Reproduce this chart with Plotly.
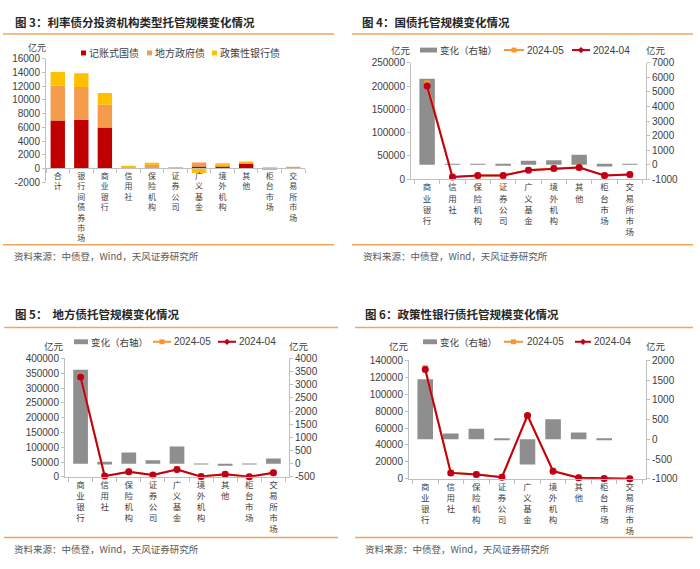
import plotly.graph_objects as go

W, H = 700, 569

# ---------------- data ----------------
cats_all = ['合计', '银行间债券市场', '商业银行', '信用社', '保险机构', '证券公司',
            '广义基金', '境外机构', '其他', '柜台市场', '交易所市场']
book_treasury = [7000, 7100, 6000, 20, -20, 10, 280, 280, 700, -90, 20]      # 记账式国债
local_gov = [5100, 4800, 3300, 100, 620, 30, 580, 130, 130, -40, 180]        # 地方政府债
policy_bank = [2000, 2000, 1700, 170, 150, -20, -650, 350, 30, -10, 0]       # 政策性银行债

cats_inst = ['商业银行', '信用社', '保险机构', '证券公司', '广义基金', '境外机构',
             '其他', '柜台市场', '交易所市场']

tb_change = [5900, 30, 40, -10, 280, 300, 680, -120, 20]
tb_2405 = [205900, 5030, 8040, 7990, 19780, 23300, 25680, 7880, 10020]
tb_2404 = [200000, 5000, 8000, 8000, 19500, 23000, 25000, 8000, 10000]

lg_change = [3570, 70, 430, 135, 650, -15, -80, -10, 200]
lg_2405 = [341000, 2570, 17430, 6130, 25650, 790, 8920, 490, 14200]
lg_2404 = [337500, 2500, 17000, 6000, 25000, 800, 9000, 500, 14000]

pb_change = [1520, 150, 270, -15, -640, 510, 170, -5, 0]
pb_2405 = [130600, 7150, 5370, 1990, 74300, 9500, 1370, 300, 100]
pb_2404 = [129100, 7000, 5100, 2000, 74900, 9000, 1200, 300, 100]

# tick values (labels built as plain strings)
p1_ticks = [-2000, 0, 2000, 4000, 6000, 8000, 10000, 12000, 14000, 16000]
p2_left_ticks = [0, 50000, 100000, 150000, 200000, 250000]
p2_right_ticks = [-1000, 0, 1000, 2000, 3000, 4000, 5000, 6000, 7000]
p3_left_ticks = [0, 50000, 100000, 150000, 200000, 250000, 300000, 350000, 400000]
p3_right_ticks = [-500, 0, 500, 1000, 1500, 2000, 2500, 3000, 3500, 4000]
p4_left_ticks = [0, 20000, 40000, 60000, 80000, 100000, 120000, 140000]
p4_right_ticks = [-1000, -500, 0, 500, 1000, 1500, 2000]

# ---------------- style ----------------
RED = '#C00000'
ORANGE = '#F59B4C'
YELLOW = '#FFC000'
GRAY = '#8E8E8E'
LINE_RED = '#C0001A'
LINE_OR = '#F7962F'
AX = '#BFBFBF'
TXT = '#404040'
DIV = '#F2A45E'
FONT = 'Liberation Sans, Noto Sans CJK SC, sans-serif'
CJK = 'Noto Sans CJK SC, sans-serif'


def fx(px):
    return px / W


def fy(py):
    return 1 - py / H


def dom_x(a, b):
    return [fx(a), fx(b)]


def dom_y(top, bottom):
    return [fy(bottom), fy(top)]


def tick_axis(vals, rng, **kw):
    d = dict(range=[rng[0], rng[1]], tickvals=vals, ticktext=[str(v) for v in vals],
             showline=True, linecolor=AX, linewidth=1, ticks='outside', ticklen=3,
             tickcolor=AX, tickfont=dict(size=10, color=TXT, family=FONT),
             showgrid=False, zeroline=False, fixedrange=True)
    d.update(kw)
    return d


def cat_axis(cats, size, **kw):
    d = dict(type='category', showline=True, linecolor=AX, linewidth=1, ticks='outside',
             ticklen=4, tickcolor=AX, tickson='boundaries',
             tickmode='array', tickvals=cats, ticktext=['<br>'.join(c) for c in cats],
             tickfont=dict(size=size, color=TXT, family=CJK), tickangle=0,
             showgrid=False, zeroline=False, fixedrange=True)
    d.update(kw)
    return d


fig = go.Figure()

# ---------------- panel 1 (图3) ----------------
for name, vals, col in [('记账式国债', book_treasury, RED),
                        ('地方政府债', local_gov, ORANGE),
                        ('政策性银行债', policy_bank, YELLOW)]:
    fig.add_trace(go.Bar(x=cats_all, y=vals, name=name, marker=dict(color=col, line=dict(width=0)),
                         xaxis='x', yaxis='y', showlegend=False))

# ---------------- panels 2-4 ----------------
panels = [
    (tb_change, tb_2405, tb_2404, 'x2', 'y2', 'y3'),
    (lg_change, lg_2405, lg_2404, 'x3', 'y4', 'y5'),
    (pb_change, pb_2405, pb_2404, 'x4', 'y6', 'y7'),
]
for chg, may, apr, xa, yb, yl in panels:
    fig.add_trace(go.Bar(x=cats_inst, y=chg, name='变化（右轴）', marker=dict(color=GRAY, line=dict(width=0)),
                         xaxis=xa, yaxis=yb, showlegend=False))
    fig.add_trace(go.Scatter(x=cats_inst, y=may, name='2024-05', mode='lines+markers',
                             line=dict(color=LINE_OR, width=2),
                             marker=dict(symbol='square', size=6, color=LINE_OR),
                             xaxis=xa, yaxis=yl, showlegend=False, cliponaxis=False))
    fig.add_trace(go.Scatter(x=cats_inst, y=apr, name='2024-04', mode='lines+markers',
                             line=dict(color=LINE_RED, width=2),
                             marker=dict(symbol='circle', size=7, color=LINE_RED),
                             xaxis=xa, yaxis=yl, showlegend=False, cliponaxis=False))

# geometry (pixels)
P1 = dict(x=(46, 305), y=(54, 180))
P2 = dict(x=(411, 646), y=(58, 177))
P3 = dict(x=(65, 289), y=(360, 481))
P4 = dict(x=(409, 646), y=(362, 483))

p1_range = [-2000, 16000]
zero_px = P1['y'][1] - (0 - p1_range[0]) / (p1_range[1] - p1_range[0]) * (P1['y'][1] - P1['y'][0])

layout = dict(
    width=W, height=H, autosize=False,
    margin=dict(l=0, r=0, t=0, b=0),
    paper_bgcolor='white', plot_bgcolor='white',
    barmode='relative', bargap=0.39,
    showlegend=False,
    font=dict(family=FONT, size=10, color=TXT),
    xaxis=cat_axis(cats_all, 8, domain=dom_x(*P1['x']), anchor='free', position=fy(zero_px)),
    yaxis=tick_axis(p1_ticks, p1_range, domain=dom_y(*P1['y']), anchor='x'),
    xaxis2=cat_axis(cats_inst, 8.5, domain=dom_x(*P2['x']), anchor='y2'),
    yaxis2=tick_axis(p2_right_ticks, [-1000, 7000], domain=dom_y(*P2['y']), anchor='x2', side='right'),
    yaxis3=tick_axis(p2_left_ticks, [0, 250000], overlaying='y2', anchor='x2', side='left'),
    xaxis3=cat_axis(cats_inst, 8.5, domain=dom_x(*P3['x']), anchor='y4'),
    yaxis4=tick_axis(p3_right_ticks, [-500, 4000], domain=dom_y(*P3['y']), anchor='x3', side='right'),
    yaxis5=tick_axis(p3_left_ticks, [0, 400000], overlaying='y4', anchor='x3', side='left'),
    xaxis4=cat_axis(cats_inst, 8.5, domain=dom_x(*P4['x']), anchor='y6'),
    yaxis6=tick_axis(p4_right_ticks, [-1000, 2000], domain=dom_y(*P4['y']), anchor='x4', side='right'),
    yaxis7=tick_axis(p4_left_ticks, [0, 140000], overlaying='y6', anchor='x4', side='left'),
)
fig.update_layout(**layout)

annotations = []
shapes = []


def text(x, y, s, size=10, color=TXT, xanchor='left', family=CJK):
    annotations.append(dict(x=fx(x), y=fy(y), xref='paper', yref='paper', text=s, showarrow=False,
                            xanchor=xanchor, yanchor='middle', font=dict(size=size, color=color, family=family)))


def hline(x0, x1, y, color=DIV, width=1.5):
    shapes.append(dict(type='line', xref='paper', yref='paper', x0=fx(x0), x1=fx(x1), y0=fy(y), y1=fy(y),
                       line=dict(color=color, width=width)))


def rect(x0, x1, y0, y1, color):
    shapes.append(dict(type='rect', xref='paper', yref='paper', x0=fx(x0), x1=fx(x1), y0=fy(y1), y1=fy(y0),
                       fillcolor=color, line=dict(width=0)))


def diamond(cx, cy, r, color):
    path = 'M{},{} L{},{} L{},{} L{},{} Z'.format(fx(cx - r), fy(cy), fx(cx), fy(cy - r), fx(cx + r), fy(cy),
                                                  fx(cx), fy(cy + r))
    shapes.append(dict(type='path', xref='paper', yref='paper', path=path, fillcolor=color, line=dict(width=0)))


# titles
TITLE = '#262626'
text(13, 16, '<b>图 3：利率债分投资机构类型托管规模变化情况</b>', size=11.5, color=TITLE)
text(360, 16, '<b>图 4：国债托管规模变化情况</b>', size=11.5, color=TITLE)
text(13, 315, '<b>图 5：  地方债托管规模变化情况</b>', size=11.5, color=TITLE)
text(363, 315, '<b>图 6：政策性银行债托管规模变化情况</b>', size=11.5, color=TITLE)

# divider lines
hline(3, 334, 28.5)
hline(352, 693, 28.5)
hline(3, 334, 244)
hline(352, 693, 244)
hline(4, 338, 328.5)
hline(355, 693, 328.5)
hline(4, 338, 543)
hline(355, 693, 543)

# sources
SRC = '资料来源：中债登，Wind，天风证券研究所'
text(12, 255, SRC, size=9.5, color='#595959')
text(361, 255, SRC, size=9.5, color='#595959')
text(12, 555, SRC, size=9.5, color='#595959')
text(363, 555, SRC, size=9.5, color='#595959')

# units
text(37, 42, '亿元', size=9, xanchor='center')
text(401, 45, '亿元', size=9.5, xanchor='center')
text(656, 45, '亿元', size=9.5, xanchor='center')
text(54, 347, '亿元', size=9.5, xanchor='center')
text(299, 347, '亿元', size=9.5, xanchor='center')
text(399, 347, '亿元', size=9.5, xanchor='center')
text(656, 347, '亿元', size=9.5, xanchor='center')

# legend panel 1
for sx, lab, col in [(81, '记账式国债', RED), (147, '地方政府债', ORANGE), (212, '政策性银行债', YELLOW)]:
    rect(sx, sx + 5, 45.5, 50.5, col)
    text(sx + 6, 48, lab, size=10)


def line_legend(bx, tx1, lx1, tx2, lx2, tx3, yc):
    rect(bx[0], bx[1], yc - 2.5, yc + 2.5, GRAY)
    text(tx1, yc, '变化（右轴）', size=9.5)
    hline(lx1[0], lx1[1], yc, color=LINE_OR, width=2)
    rect((lx1[0] + lx1[1]) / 2 - 2.5, (lx1[0] + lx1[1]) / 2 + 2.5, yc - 2.5, yc + 2.5, LINE_OR)
    text(tx2, yc, '2024-05', size=10, family=FONT)
    hline(lx2[0], lx2[1], yc, color=LINE_RED, width=2)
    diamond((lx2[0] + lx2[1]) / 2, yc, 3.2, LINE_RED)
    text(tx3, yc, '2024-04', size=10, family=FONT)


line_legend((420, 437), 438, (504, 524), 525, (572, 590), 591, 45)
line_legend((74, 88), 89, (153, 171), 172, (218, 236), 237, 343)
line_legend((423, 437), 438, (504, 523), 525, (575, 591), 592, 343)

fig.update_layout(annotations=annotations, shapes=shapes)
fig.write_html('out.html', config={'displayModeBar': False},
               post_script="document.body.style.margin='0';")
